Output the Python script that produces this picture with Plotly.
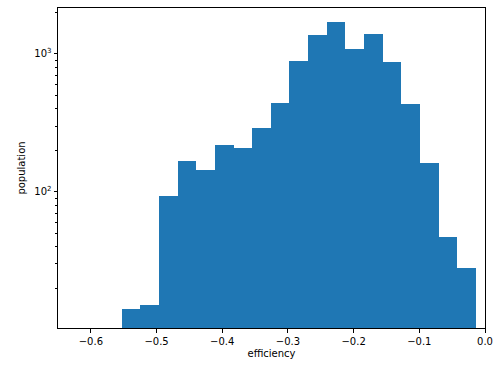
import plotly.graph_objects as go

# Histogram data
bin_start = -0.5533
bin_width = 0.02841
counts = [13.1, 14.2, 92, 165, 142, 218, 208, 288, 441, 894, 1380, 1694,
          1092, 1403, 875, 431, 160, 46, 27]

x_tick_vals = [-0.6, -0.5, -0.4, -0.3, -0.2, -0.1, 0.0]
x_tick_text = ["\u22120.6", "\u22120.5", "\u22120.4", "\u22120.3", "\u22120.2", "\u22120.1", "0.0"]
y_tick_vals = [100, 1000]
y_tick_text = ["10<sup>2</sup>", "10<sup>3</sup>"]
y_minor_vals = [m * 10 ** e for e in (1, 2, 3) for m in range(2, 10)]

centers = [bin_start + bin_width * (i + 0.5) for i in range(len(counts))]

fig = go.Figure(go.Bar(
    x=centers, y=counts, width=[bin_width] * len(counts),
    marker=dict(color="#1f77b4", line=dict(width=0)),
    base=1,
))

font = dict(family="DejaVu Sans", size=10, color="black")
fig.update_layout(
    width=500, height=369,
    margin=dict(l=58, r=12, t=7, b=41),
    plot_bgcolor="white", paper_bgcolor="white",
    showlegend=False, bargap=0, font=font,
)
fig.update_xaxes(
    range=[-0.65, 0.0], tickvals=x_tick_vals, ticktext=x_tick_text,
    showgrid=False, zeroline=False, showline=True, mirror=True,
    linecolor="black", linewidth=1, ticks="outside", ticklen=3.5,
    tickcolor="black", title=dict(text="efficiency", font=font, standoff=4),
)
fig.update_yaxes(
    type="log", range=[1.0116, 3.3335], tickvals=y_tick_vals, ticktext=y_tick_text,
    showgrid=False, zeroline=False, showline=True, mirror=True,
    linecolor="black", linewidth=1, ticks="outside", ticklen=3.5,
    tickcolor="black", title=dict(text="population", font=font, standoff=6),
    minor=dict(tickmode="array", tickvals=y_minor_vals, ticks="outside",
               ticklen=2, tickcolor="black", showgrid=False),
)

fig.write_html("out.html")
